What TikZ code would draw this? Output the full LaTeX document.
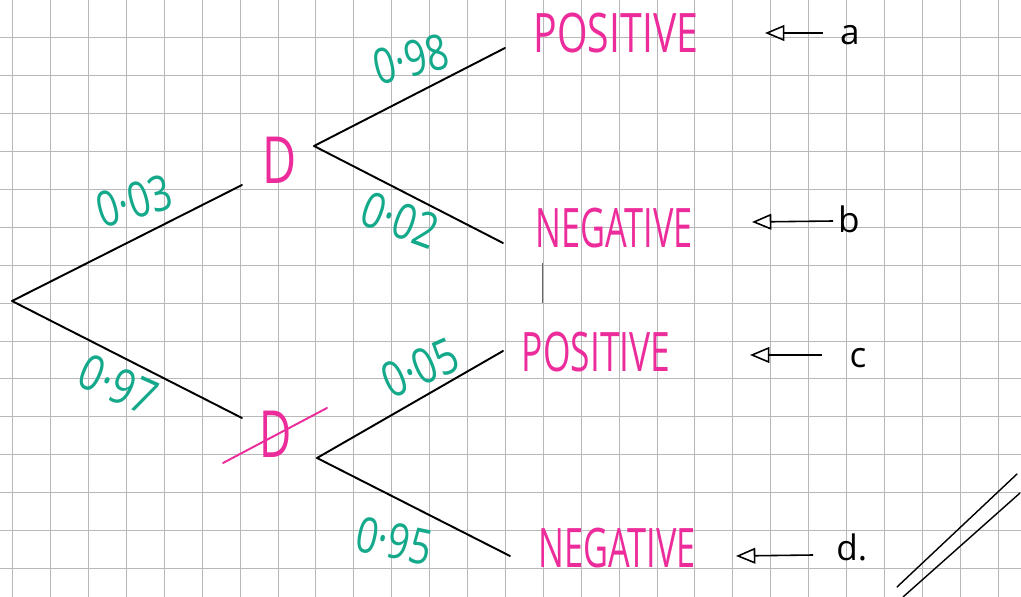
\documentclass[tikz,border=0pt]{standalone}
\usepackage{fontspec}
\usepackage{graphicx}
\setmainfont{Open Sans}
\usetikzlibrary{arrows.meta}
\definecolor{pinkpen}{HTML}{EC2C9B}
\definecolor{tealpen}{HTML}{14A98B}
\definecolor{gridgray}{HTML}{B8B8B8}
\newcommand{\nrw}[2]{\scalebox{#1}[1]{#2}}
\tikzset{
  gridln/.style={draw=gridgray, line width=0.5pt},
  branch/.style={draw=black, line width=1.1pt, line cap=round},
  pinkword/.style={text=pinkpen, inner sep=0pt, font=\fontsize{31}{31}\selectfont},
  pinkD/.style={text=pinkpen, inner sep=0pt, font=\fontsize{37}{37}\selectfont},
  prob/.style={text=tealpen, inner sep=0pt, font=\fontsize{28}{28}\selectfont},
  letter/.style={text=black, inner sep=0pt, anchor=base, font=\fontsize{20}{20}\selectfont},
  pointer/.style={draw=black, line width=0.9pt, -{Triangle[open, length=11pt, width=9pt]}},
  strike/.style={draw=pinkpen, line width=1.1pt, line cap=round},
  slash/.style={draw=black, line width=0.8pt, line cap=round}
}
\begin{document}
\begin{tikzpicture}[x=0.02cm, y=-0.02cm]
\useasboundingbox (0,0) rectangle (1021,597);
\fill[white] (0,0) rectangle (1021,597);
% grid paper
\foreach \i in {0,...,26} \draw[gridln] ({12.7+37.9*\i},0) -- ({12.7+37.9*\i},597);
\foreach \j in {1,...,15} \draw[gridln] (0,{-0.6+37.95*\j}) -- (1021,{-0.6+37.95*\j});
\draw[draw=gray!80!black, line width=0.8pt] (542.7,263) -- (542.7,303);
% tree vertices
\coordinate (root) at (12,301);
\coordinate (uA) at (242,185);
\coordinate (lA) at (242,418);
\coordinate (uB) at (314,146);
\coordinate (lB) at (317,458);
\coordinate (e1) at (505,48);
\coordinate (e2) at (503,243);
\coordinate (e3) at (503,351);
\coordinate (e4) at (510,556);
\draw[branch] (root) -- (uA);
\draw[branch] (root) -- (lA);
\draw[branch] (uB) -- (e1);
\draw[branch] (uB) -- (e2);
\draw[branch] (lB) -- (e3);
\draw[branch] (lB) -- (e4);
% event labels
\node[pinkD] (D) at (280,160) {\nrw{0.72}{D}};
\node[pinkD] (Dbar) at (276,434) {\nrw{0.68}{D}};
\coordinate (s1) at (223,463);
\coordinate (s2) at (327,408);
\draw[strike] (s1) -- (s2);
% probabilities
\node[prob, rotate=14] (p98) at (411,59) {\nrw{0.78}{0·98}};
\node[prob, rotate=-20] (p02) at (400,220) {\nrw{0.8}{0·02}};
\node[prob, rotate=16] (p03) at (134,201) {\nrw{0.78}{0·03}};
\node[prob, rotate=-24] (p97) at (118,385) {\nrw{0.82}{0·97}};
\node[prob, rotate=24] (p05) at (420,368) {\nrw{0.8}{0·05}};
\node[prob, rotate=-12] (p95) at (394,541) {\nrw{0.78}{0·95}};
% outcomes
\node[pinkword] (pos1) at (616,33) {\nrw{0.72}{POSITIVE}};
\node[pinkword] (neg1) at (614,228) {\nrw{0.63}{NEGATIVE}};
\node[pinkword] (pos2) at (596,352) {\nrw{0.65}{POSITIVE}};
\node[pinkword] (neg2) at (617,548) {\nrw{0.63}{NEGATIVE}};
% pointers and letters
\node[letter] (la) at (850,45) {a};
\node[letter] (lb) at (849,233) {b};
\node[letter] (lc) at (858,368) {c};
\node[letter, anchor=base west] (ld) at (836,561) {d.};
\coordinate (ta) at (823,33);
\coordinate (ha) at (765,33);
\coordinate (tb) at (833,221);
\coordinate (hb) at (752,222);
\coordinate (tc) at (822,355);
\coordinate (hc) at (750,355);
\coordinate (td) at (813,555);
\coordinate (hd) at (736,556);
\draw[pointer] (ta) -- (ha);
\draw[pointer] (tb) -- (hb);
\draw[pointer] (tc) -- (hc);
\draw[pointer] (td) -- (hd);
% double slash
\draw[slash] (897,587) -- (1017,474);
\draw[slash] (903,597) -- (1020,493);
\end{tikzpicture}
\end{document}
